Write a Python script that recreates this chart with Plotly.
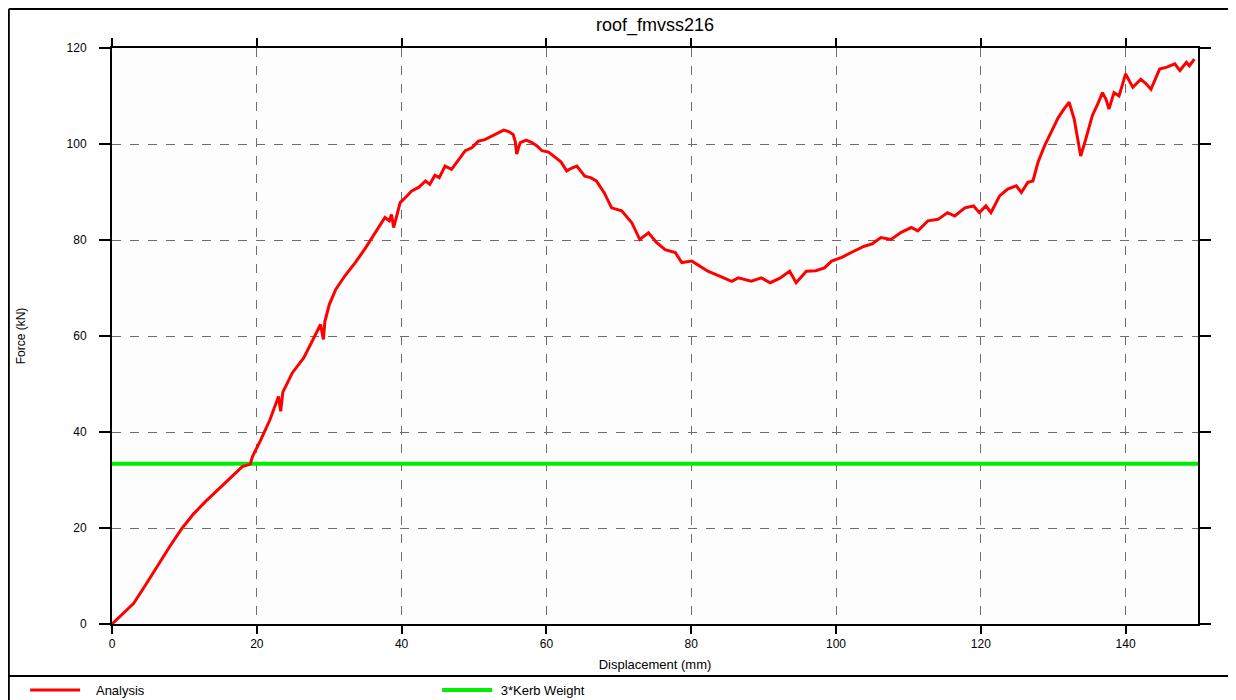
import plotly.graph_objects as go

# ---- data ----
displacement = [0, 1.5, 3.0, 4.5, 6.2, 8.0, 9.7, 11.3, 12.9, 14.8,
                16.6, 18.0, 19.1, 19.4, 20.5, 21.8, 23.0, 23.3, 23.6, 24.9,
                26.5, 28.0, 28.8, 29.2, 29.4, 30.0, 30.9, 32.2, 33.6, 35.0,
                36.4, 37.7, 38.3, 38.6, 38.9, 39.2, 39.8, 40.3, 41.4, 42.4,
                43.3, 43.9, 44.6, 45.2, 46.0, 46.9, 47.8, 48.8, 49.7, 50.6,
                51.5, 52.5, 53.3, 54.1, 54.8, 55.4, 55.7, 55.9, 56.2, 56.4,
                57.2, 58.0, 58.7, 59.4, 60.3, 61.2, 62.0, 62.8, 63.5, 64.2,
                65.3, 66.1, 66.9, 68.0, 69.0, 70.4, 71.8, 72.9, 74.1, 75.2,
                76.4, 77.8, 78.7, 80.1, 81.2, 82.3, 84.0, 85.6, 86.5, 88.3,
                89.7, 90.9, 92.2, 93.6, 94.5, 95.9, 97.2, 98.4, 99.4, 100.8,
                102.1, 103.9, 105.0, 106.2, 107.6, 109.0, 110.4, 111.3, 112.7, 114.1,
                115.4, 116.4, 117.8, 119.0, 119.8, 120.7, 121.4, 122.6, 123.7, 124.9,
                125.6, 126.5, 127.2, 127.9, 128.8, 129.9, 130.7, 131.5, 132.2, 132.9,
                133.4, 133.8, 134.5, 135.4, 136.2, 136.8, 137.3, 137.7, 138.4, 139.1,
                140.0, 141.0, 142.1, 142.8, 143.5, 144.7, 145.7, 146.8, 147.5, 148.4,
                148.8, 149.5]

force = [0, 2.1, 4.3, 7.8, 12.0, 16.2, 20.0, 23.0, 25.5, 28.2,
         30.7, 32.8, 33.3, 34.9, 38.2, 42.5, 47.4, 44.3, 48.3, 52.3,
         55.5, 59.8, 62.4, 59.3, 63.0, 66.5, 69.7, 72.6, 75.3, 78.3,
         81.5, 84.7, 84.0, 85.3, 82.6, 84.5, 87.8, 88.5, 90.2, 91.0,
         92.3, 91.6, 93.5, 93.0, 95.4, 94.7, 96.5, 98.6, 99.2, 100.6,
         100.9, 101.7, 102.4, 102.9, 102.6, 102.0, 100.5, 97.9, 99.5, 100.3,
         100.8, 100.3, 99.6, 98.6, 98.3, 97.2, 96.3, 94.4, 95.0, 95.4,
         93.3, 93.0, 92.3, 89.8, 86.7, 86.1, 83.6, 80.1, 81.5, 79.5,
         78.0, 77.4, 75.3, 75.6, 74.6, 73.5, 72.4, 71.4, 72.1, 71.4,
         72.1, 71.1, 72.0, 73.5, 71.1, 73.5, 73.6, 74.2, 75.6, 76.4,
         77.4, 78.7, 79.2, 80.5, 80.1, 81.6, 82.6, 81.9, 84.0, 84.3,
         85.7, 85.0, 86.7, 87.1, 85.7, 87.1, 85.7, 89.2, 90.6, 91.3,
         89.9, 92.0, 92.3, 96.2, 99.6, 103.1, 105.5, 107.3, 108.7, 105.2,
         100.5, 97.5, 101.0, 105.9, 108.5, 110.7, 109.3, 107.3, 110.7, 110.0,
         114.6, 111.8, 113.5, 112.6, 111.4, 115.6, 116.0, 116.7, 115.3, 117.0,
         116.3, 117.7]

kerb_x = [0, 150]
kerb_y = [33.4, 33.4]

x_ticks = [0, 20, 40, 60, 80, 100, 120, 140]
y_ticks = [0, 20, 40, 60, 80, 100, 120]

FONT = "Liberation Sans, Arial, sans-serif"

W, H = 1228, 692  # page adds an 8px body margin

fig = go.Figure()
fig.add_trace(go.Scatter(x=kerb_x, y=kerb_y, mode="lines", name="\u00a03*Kerb Weight",
                         line=dict(color="#00ee00", width=4), legendrank=2))
fig.add_trace(go.Scatter(x=displacement, y=force, mode="lines", name="\u00a0\u00a0\u00a0Analysis",
                         line=dict(color="#ff0000", width=3), legendrank=1))

axis_common = dict(
    showline=True, linecolor="black", linewidth=2, mirror="ticks",
    ticks="outside", tickwidth=2, tickcolor="black",
    showgrid=True, gridcolor="#6e6e6e", griddash="dash", gridwidth=1,
    zeroline=False, tickfont=dict(family=FONT, size=12, color="black"),
)

fig.update_xaxes(range=[0, 150], tickvals=x_ticks, ticklen=8,
                 title=dict(text="Displacement (mm)", font=dict(family=FONT, size=13, color="black"),
                            standoff=9),
                 **axis_common)
fig.update_yaxes(range=[0, 120], tickvals=y_ticks, ticklen=11, ticklabelstandoff=10,
                 title=dict(text="Force (kN)", font=dict(family=FONT, size=12, color="black"),
                            standoff=38),
                 **axis_common)

fig.update_layout(
    width=W, height=H,
    margin=dict(l=104, r=38, t=40, b=76, autoexpand=False),
    paper_bgcolor="white", plot_bgcolor="#fdfdfd",
    title=dict(text="roof_fmvss216", x=647 / W, xanchor="center", y=1 - 17 / H,
               yanchor="middle", font=dict(family=FONT, size=18, color="black")),
    font=dict(family=FONT, size=12, color="black"),
    showlegend=True,
    legend=dict(orientation="h", x=-0.080, xanchor="left", y=-0.1146, yanchor="middle",
                entrywidth=347, entrywidthmode="pixels", itemwidth=50,
                bgcolor="rgba(0,0,0,0)", font=dict(family=FONT, size=13, color="black"),
                traceorder="normal"),
    shapes=[
        dict(type="line", xref="paper", yref="paper", x0=-0.0950, x1=1.05, y0=1.0677, y1=1.0677,
             line=dict(color="black", width=2)),
        dict(type="line", xref="paper", yref="paper", x0=-0.0950, x1=-0.0950, y0=1.0677, y1=-0.2,
             line=dict(color="black", width=2)),
        dict(type="line", xref="paper", yref="paper", x0=-0.0950, x1=1.05, y0=-0.0903, y1=-0.0903,
             line=dict(color="black", width=2)),
    ],
)

fig.write_html("out.html")
